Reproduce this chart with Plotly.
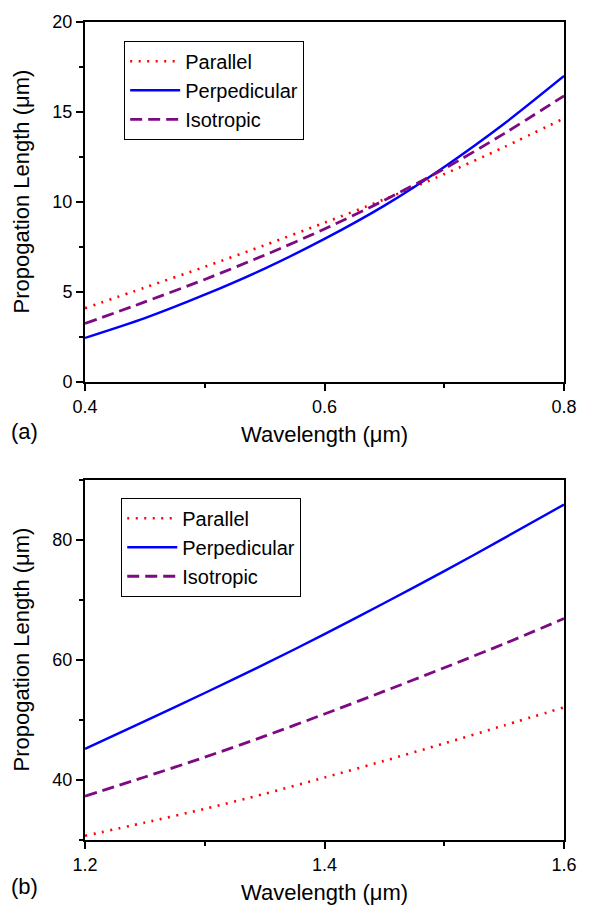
import plotly.graph_objects as go

# Visible range, wavelength in micrometres
wl_vis = [0.40, 0.45, 0.50, 0.55, 0.60, 0.65, 0.70, 0.75, 0.80]
vis_parallel = [4.1, 5.25, 6.4, 7.6, 8.85, 10.15, 11.55, 13.05, 14.65]
vis_perpendicular = [2.45, 3.55, 4.85, 6.3, 7.95, 9.8, 11.95, 14.35, 17.0]
vis_isotropic = [3.25, 4.45, 5.7, 7.05, 8.5, 10.1, 11.85, 13.8, 15.9]

# Near-infrared range
wl_nir = [1.20, 1.25, 1.30, 1.35, 1.40, 1.45, 1.50, 1.55, 1.60]
nir_parallel = [30.7, 32.9, 35.2, 37.7, 40.4, 43.2, 46.1, 49.1, 52.1]
nir_perpendicular = [45.2, 49.8, 54.5, 59.3, 64.3, 69.5, 74.8, 80.3, 85.9]
nir_isotropic = [37.3, 40.5, 43.8, 47.3, 51.0, 54.8, 58.7, 62.7, 66.9]

series_names = ["Parallel", "Perpedicular", "Isotropic"]
x_title = "Wavelength (μm)"
y_title = "Propogation Length (μm)"

FONT = "Liberation Sans, Arial, sans-serif"
styles = {
    "Parallel": dict(color="#ff0000", width=2.6, dash="2px,6.5px"),
    "Perpedicular": dict(color="#0000ff", width=2.4, dash="solid"),
    "Isotropic": dict(color="#7d0a82", width=2.8, dash="12px,6px"),
}

fig = go.Figure()

panels = [
    ("x", "y", "legend", wl_vis, [vis_parallel, vis_perpendicular, vis_isotropic]),
    ("x2", "y2", "legend2", wl_nir, [nir_parallel, nir_perpendicular, nir_isotropic]),
]
for xa, ya, leg, xs, ys_list in panels:
    for name, ys in zip(series_names, ys_list):
        fig.add_trace(go.Scatter(
            x=xs, y=ys, name=name, mode="lines",
            line=dict(shape="spline", smoothing=0.8, **styles[name]),
            xaxis=xa, yaxis=ya, legend=leg,
        ))

axis_common = dict(
    showline=True, linecolor="black", linewidth=2, mirror=True,
    ticks="outside", ticklen=7, tickwidth=1.8, tickcolor="black",
    showgrid=False, zeroline=False,
    tickfont=dict(family=FONT, size=18, color="black"),
)
minor_common = dict(ticks="outside", ticklen=4, tickwidth=1.5, tickcolor="black", showgrid=False)

top_dom = [(840 - 377) / 827, 1.0]
bot_dom = [0.0, (840 - 476) / 827]

legend_common = dict(
    xanchor="left", yanchor="top", bordercolor="black", borderwidth=1,
    bgcolor="white", itemwidth=50, tracegroupgap=0,
    font=dict(family=FONT, size=20, color="black"),
)

fig.update_layout(
    width=589, height=910,
    margin=dict(l=85, r=15, t=13, b=70),
    paper_bgcolor="white", plot_bgcolor="white",
    font=dict(family=FONT, color="black"),
    xaxis=dict(domain=[0, 1], anchor="y", range=[0.4, 0.8], dtick=0.2, tick0=0.4,
               tickformat=".1f", minor=dict(dtick=0.1, **minor_common), **axis_common),
    yaxis=dict(domain=top_dom, anchor="x", range=[0, 20], dtick=5, tick0=0,
               minor=dict(dtick=2.5, **minor_common), **axis_common),
    xaxis2=dict(domain=[0, 1], anchor="y2", range=[1.2, 1.6], dtick=0.2, tick0=1.2,
                tickformat=".1f", minor=dict(dtick=0.1, **minor_common), **axis_common),
    yaxis2=dict(domain=bot_dom, anchor="x2", range=[30, 90], dtick=20, tick0=0,
                minor=dict(dtick=10, **minor_common), **axis_common),
    legend=dict(x=(125 - 85) / 489, y=(840 - 32) / 827, **legend_common),
    legend2=dict(x=(122 - 85) / 489, y=(840 - 494) / 827, **legend_common),
    showlegend=True,
)

def px_to_paper_y(py):
    return (840 - py) / 827

def px_to_paper_x(px):
    return (px - 85) / 489

annots = [
    (x_title, px_to_paper_x(329.5), px_to_paper_y(430), 0),
    (x_title, px_to_paper_x(329.5), px_to_paper_y(893), 0),
    (y_title, px_to_paper_x(20), px_to_paper_y(184), -90),
    (y_title, px_to_paper_x(20), px_to_paper_y(647), -90),
    ("(a)", px_to_paper_x(23), px_to_paper_y(427), 0),
    ("(b)", px_to_paper_x(23), px_to_paper_y(887), 0),
]
for text, ax, ay, rot in annots:
    fig.add_annotation(text=text, x=ax, y=ay, xref="paper", yref="paper",
                       xanchor="center", yanchor="middle", showarrow=False,
                       textangle=rot, font=dict(family=FONT, size=22, color="black"))

fig.write_html("out.html")
